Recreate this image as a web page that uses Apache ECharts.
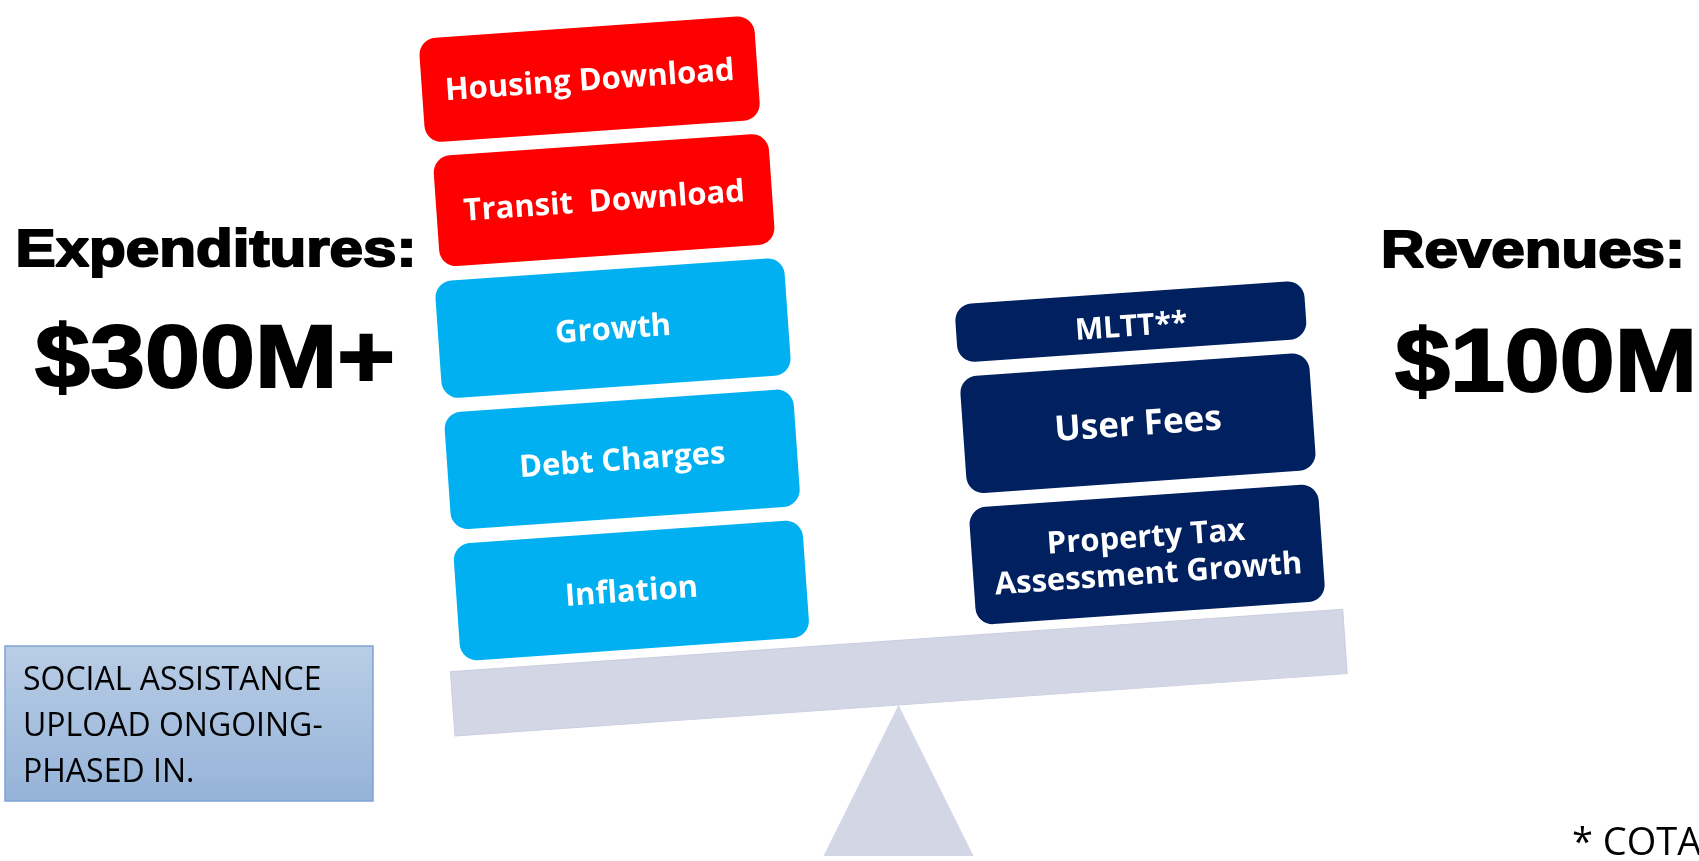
<!DOCTYPE html>
<html>
<head>
<meta charset="utf-8">
<title>Expenditures vs Revenues</title>
<script src="https://cdn.jsdelivr.net/npm/echarts@6.0.0/dist/echarts.min.js"></script>
<style>
html, body { margin: 0; padding: 0; background: #fff; }
#chart { width: 1699px; height: 861px; }
</style>
</head>
<body>
<div id="chart"></div>
<script>
// the two pans of the scale
const sides = ['Expenditures', 'Revenues']
const sideTotals = ['$300M+', '$100M']

// blocks listed bottom -> top, weight = relative block height
const expenditureItems = ['Inflation', 'Debt Charges', 'Growth', 'Transit  Download', 'Housing Download']
const expenditureWeights = [1, 1, 1, 0.95, 0.9]
const expenditureKinds = ['pressure', 'pressure', 'pressure', 'download', 'download']

const revenueItems = ['Property Tax\nAssessment Growth', 'User Fees', 'MLTT**']
const revenueWeights = [1, 1, 0.55]
const revenueKinds = ['revenue', 'revenue', 'revenue']

const noteLines = ['SOCIAL ASSISTANCE', 'UPLOAD ONGOING-', 'PHASED IN.']
const footnote = '* COTA'

// styling
const KIND_COLOR = { download: '#ff0000', pressure: '#00b0f0', revenue: '#002060' }
const KIND_WIDTH = { download: 0.65, pressure: 0.677, revenue: 0.677 } // share of the band
const LABEL_SIZE = { 'User Fees': 35, 'MLTT**': 30 }
const TILT = 4 * Math.PI / 180
const Y_MIN = -0.51 // beam bottom / fulcrum level
const GAP = 14
const LABEL_FONT = '"Open Sans", "Noto Sans", sans-serif'
const HEAD_FONT = '"Liberation Sans", Arial, sans-serif'

const stack = (sideIdx, items, weights, kinds) => {
  let acc = 0
  return items.map((name, i) => {
    const start = acc
    acc += weights[i]
    return { name, value: [sideIdx, start, acc], kind: kinds[i] }
  })
}

const blocks = stack(0, expenditureItems, expenditureWeights, expenditureKinds)
  .concat(stack(1, revenueItems, revenueWeights, revenueKinds))

// fulcrum point: midway between the two pans, at the bottom of the beam
const pivotOf = (api) => {
  const a = api.coord([0, Y_MIN])
  const b = api.coord([1, Y_MIN])
  return [(a[0] + b[0]) / 2, a[1]]
}

const renderBlock = (params, api) => {
  const item = blocks[params.dataIndex]
  const side = api.value(0)
  const band = api.size([1, 0])[0]
  const w = band * KIND_WIDTH[item.kind]
  const top = api.coord([side, api.value(2)])
  const bot = api.coord([side, api.value(1)])
  const pv = pivotOf(api)
  const size = LABEL_SIZE[item.name] || 31
  // the top red block sits a little left of the others
  const shift = item.name === 'Housing Download' ? -6 : 0
  return {
    type: 'group',
    rotation: TILT,
    originX: pv[0],
    originY: pv[1],
    children: [
      {
        type: 'rect',
        shape: { x: top[0] - w / 2 + shift, y: top[1] + GAP / 2, width: w, height: bot[1] - top[1] - GAP, r: 17 },
        style: { fill: KIND_COLOR[item.kind] }
      },
      {
        type: 'text',
        style: {
          text: item.name,
          x: top[0] + shift,
          y: (top[1] + bot[1]) / 2 + (item.name === 'MLTT**' ? 6 : 2),
          align: 'center', textAlign: 'center',
          verticalAlign: 'middle', textVerticalAlign: 'middle',
          fill: '#fff',
          font: 'bold ' + size + 'px ' + LABEL_FONT,
          lineHeight: 37
        }
      }
    ]
  }
}

const renderScale = (params, api) => {
  const pv = pivotOf(api)
  const band = api.size([1, 0])[0]
  const left = api.coord([0, 0])[0] - band * 0.36
  const right = api.coord([1, 0])[0] + band * 0.37
  const top = api.coord([0, -0.02])[1]
  return {
    type: 'group',
    children: [
      {
        type: 'group',
        rotation: TILT,
        originX: pv[0],
        originY: pv[1],
        children: [{
          type: 'rect',
          shape: { x: left, y: top, width: right - left, height: pv[1] - top },
          style: { fill: '#d3d6e5', stroke: '#c9cddf', lineWidth: 1 }
        }]
      },
      {
        type: 'polygon',
        shape: { points: [[pv[0], pv[1]], [pv[0] + 75, pv[1] + 151], [pv[0] - 75, pv[1] + 151]] },
        style: { fill: '#d3d6e5' }
      }
    ]
  }
}

const headText = (text, x, y, size, sx) => ({
  type: 'text',
  x, y,
  scaleX: sx,
  style: {
    text,
    align: 'center', textAlign: 'center',
    verticalAlign: 'middle', textVerticalAlign: 'middle',
    fill: '#000',
    stroke: '#000',
    lineWidth: 2,
    font: 'bold ' + size + 'px ' + HEAD_FONT
  }
})

const chart = echarts.init(document.getElementById('chart'), undefined, { renderer: 'canvas' })

chart.setOption({
  animation: false,
  backgroundColor: '#fff',
  grid: { left: 381.5, right: 283.5, top: 0, bottom: 156 },
  xAxis: { type: 'category', data: sides, show: false },
  yAxis: { type: 'value', min: Y_MIN, max: 4.85, show: false, splitLine: { show: false } },
  graphic: [
    headText(sides[0] + ':', 216, 252, 52, 1.156),
    headText(sideTotals[0], 215, 362, 89, 1.11),
    headText(sides[1] + ':', 1533, 253, 52, 1.156),
    headText(sideTotals[1], 1546, 366, 89, 1.11),
    {
      type: 'rect',
      shape: { x: 5, y: 646, width: 368, height: 155 },
      style: {
        fill: new echarts.graphic.LinearGradient(0, 0, 0, 1, [
          { offset: 0, color: '#b9cde6' },
          { offset: 1, color: '#95b3d8' }
        ]),
        stroke: '#7fa3d2',
        lineWidth: 1.5
      }
    },
    ...noteLines.map((line, i) => ({
      type: 'text',
      x: 23,
      y: 681 + i * 45.7,
      style: {
        text: line,
        align: 'left', textAlign: 'left',
        verticalAlign: 'middle', textVerticalAlign: 'middle',
        fill: '#000',
        font: '32px ' + LABEL_FONT
      }
    })),
    {
      type: 'text',
      x: 1572,
      y: 844,
      style: {
        text: footnote,
        align: 'left', textAlign: 'left',
        verticalAlign: 'middle', textVerticalAlign: 'middle',
        fill: '#000',
        font: '38px ' + LABEL_FONT
      }
    }
  ],
  series: [
    {
      name: 'scale',
      type: 'custom',
      clip: false,
      silent: true,
      data: [[0, 0]],
      renderItem: renderScale
    },
    {
      name: 'blocks',
      type: 'custom',
      clip: false,
      data: blocks,
      renderItem: renderBlock
    }
  ]
})

window.addEventListener('resize', () => chart.resize())
</script>
</body>
</html>
